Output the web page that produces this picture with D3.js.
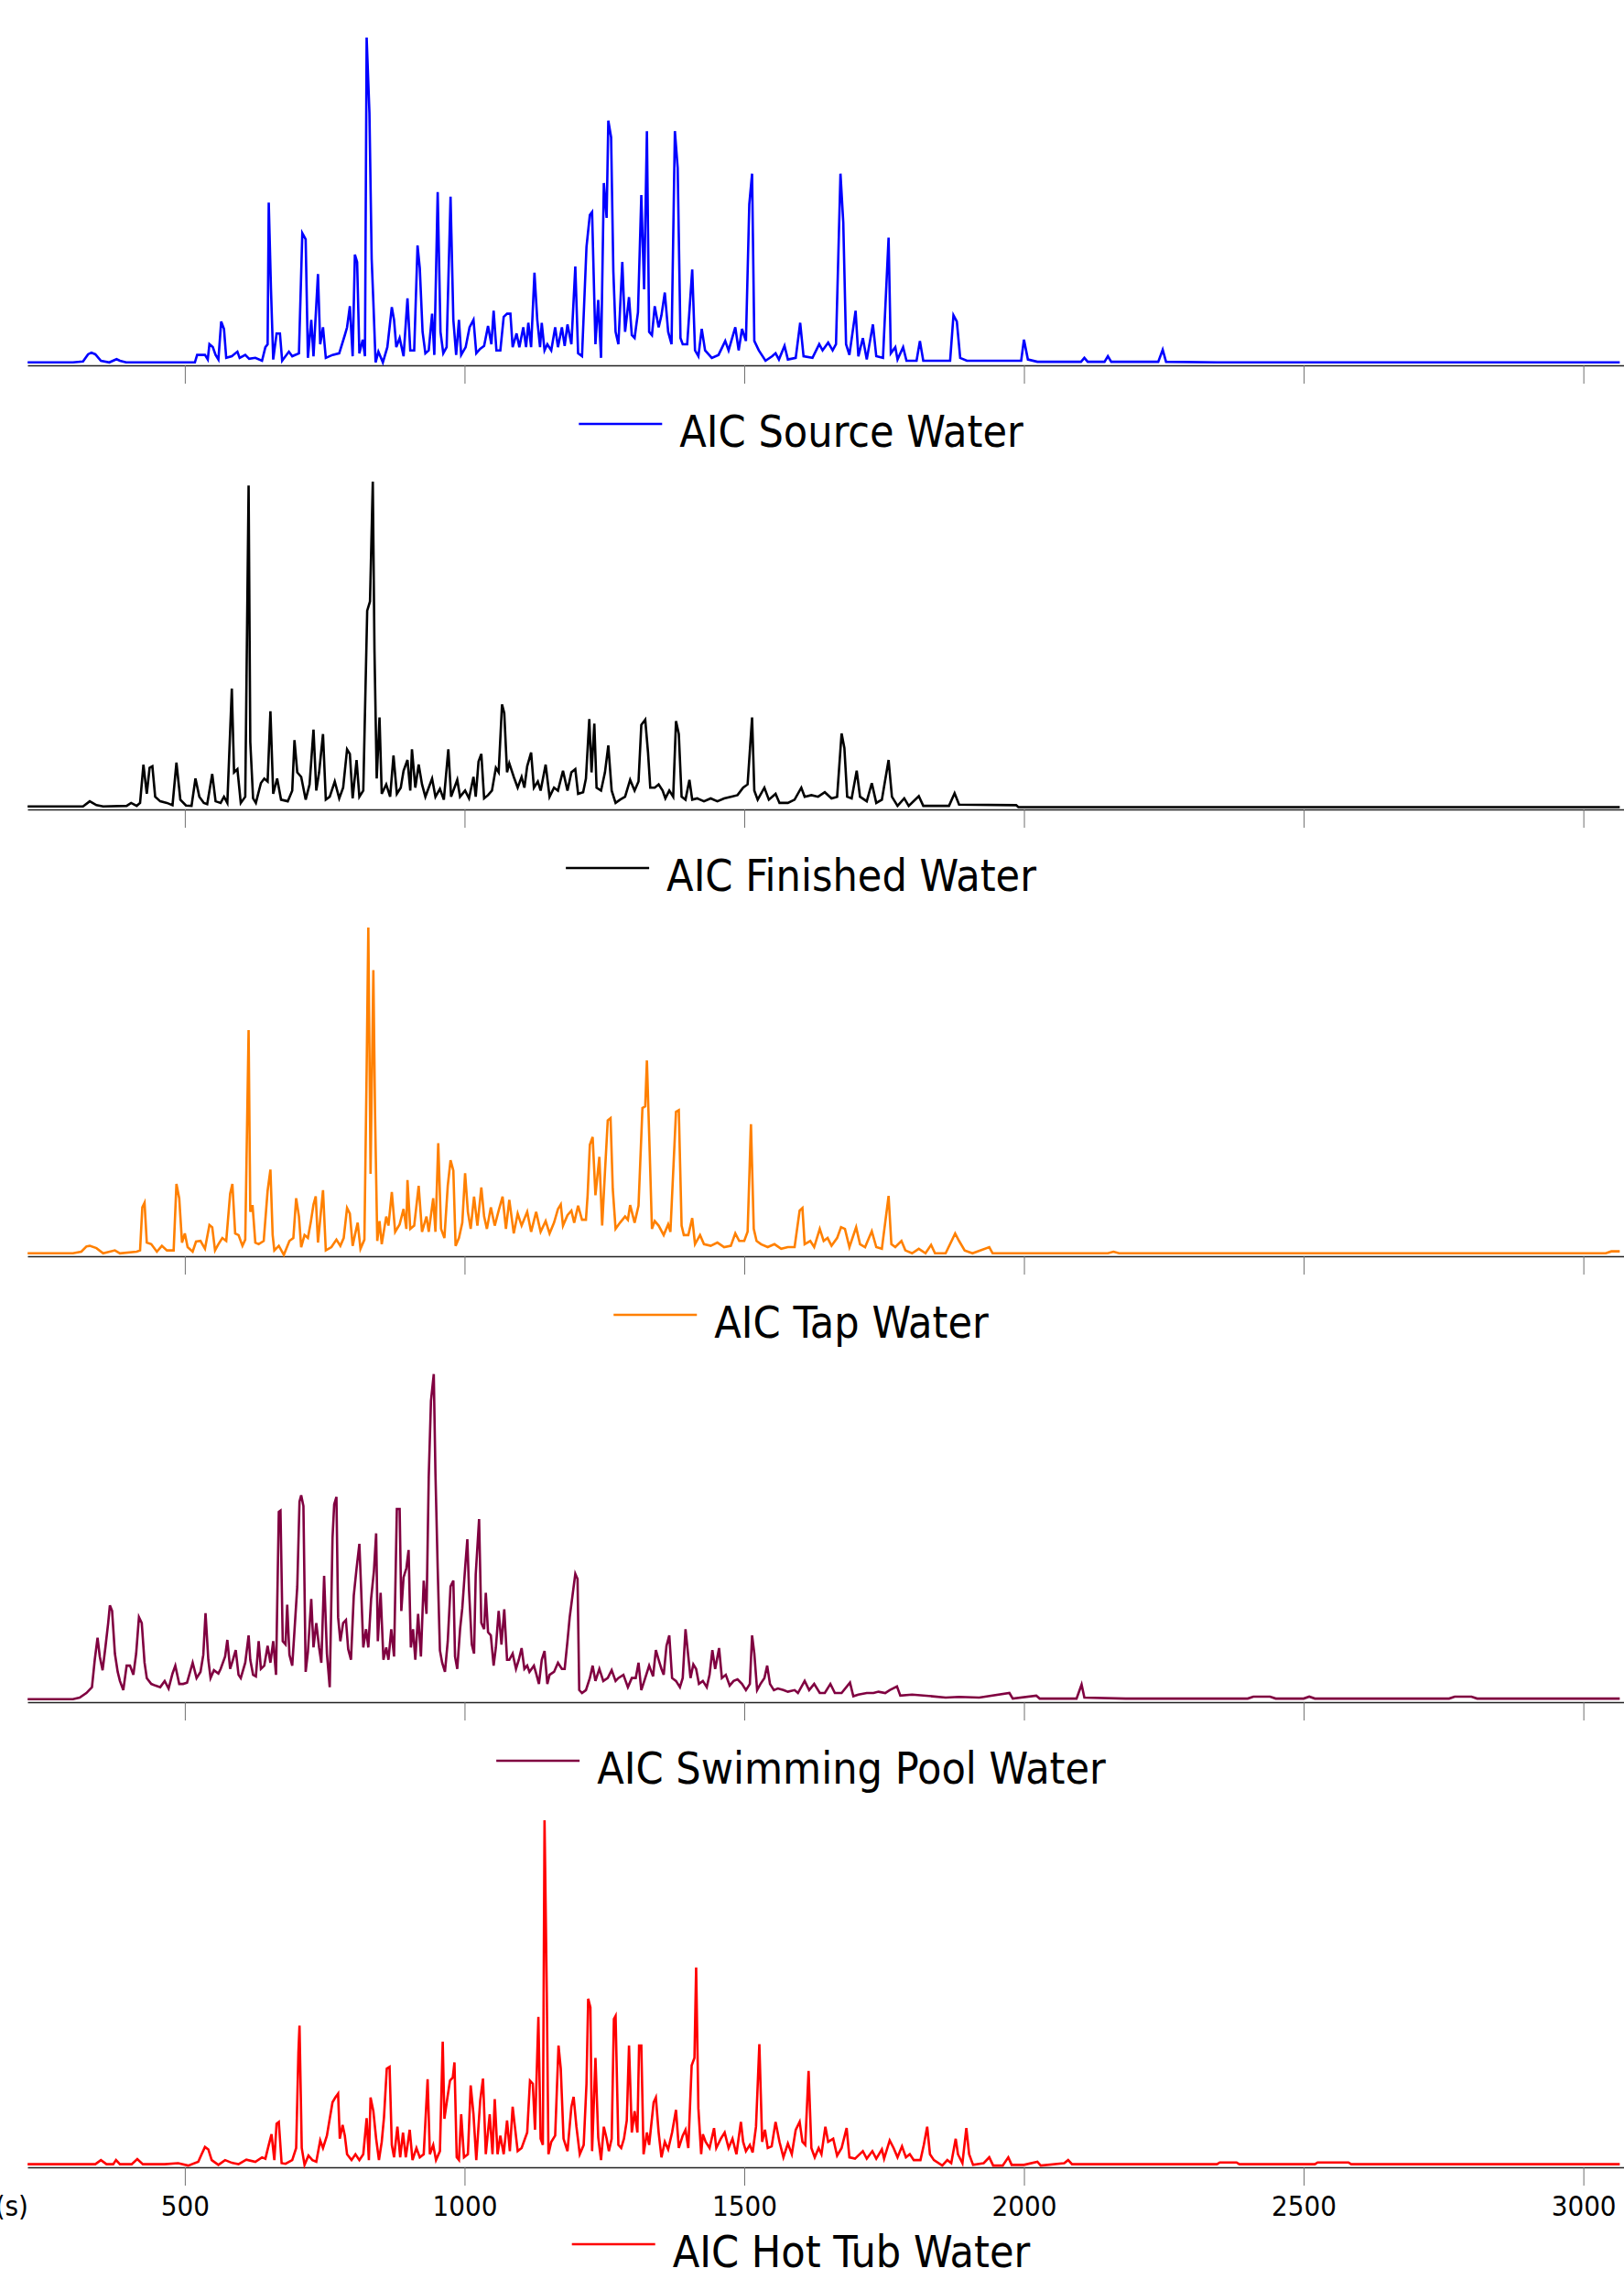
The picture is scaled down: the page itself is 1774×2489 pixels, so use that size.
<!DOCTYPE html>
<html>
<head>
<meta charset="utf-8">
<script src="https://cdn.jsdelivr.net/npm/d3@7"></script>
<style>
  body { margin: 0; background: #fff; }
  svg text { font-family: "DejaVu Sans Condensed", "DejaVu Sans", sans-serif; font-stretch: condensed; }
</style>
</head>
<body>
<div id="chart"></div>
<script>
// retention time ticks (s)
var timeTicks = [500, 1000, 1500, 2000, 2500, 3000];

var seriesNames = ["AIC Source Water", "AIC Finished Water", "AIC Tap Water",
                   "AIC Swimming Pool Water", "AIC Hot Tub Water"];

// [time (s), relative abundance (% of panel max)]
var sourceWater = [[219,0],[300,0],[318,0.3],[327,2.5],[333,3],[340,2.5],[350,0.5],[365,0],[378,1],[384,0.5],[395,0],[460,0],
  [518,0],[522,2.3],[536,2.3],[541,0.9],[544,5.6],[550,4.7],[555,2.3],[560,0.9],[565,12.6],[570,10.3],[574,1.4],[584,1.9],
  [594,3.3],[598,1.4],[608,2.3],[615,1.1],[626,1.4],[638,0.5],[644,4.7],[648,5.6],[650,49.2],[654,22.5],[658,0.9],[664,8.9],
  [670,8.9],[674,0.5],[686,3.3],[692,1.9],[704,2.8],[710,39.8],[716,37.9],[720,1.4],[726,13.1],[730,1.9],[738,27.2],[742,5.6],
  [747,10.8],[752,1.4],[764,2.3],[776,2.8],[786,8.4],[790,10.8],[795,17.3],[800,1.9],[804,33.2],[808,30.9],[812,2.8],[818,7],
  [822,1.9],[825,100],[830,76.8],[834,31.8],[837,18.7],[841,0],[846,3.3],[854,0],[862,4.7],[870,17],[874,13.1],[878,4.7],
  [884,7.5],[891,1.9],[898,19.7],[903,3.7],[910,3.7],[916,36],[920,29],[925,9.4],[930,2.8],[936,3.7],[942,15],[946,2.3],
  [952,52.4],[957,9.4],[962,2.8],[968,4.7],[975,51],[980,13.1],[985,2.3],[990,13.1],[994,2.3],[1002,4.7],[1009,10.8],[1016,13.1],
  [1021,2.8],[1028,4.2],[1035,5.1],[1042,11.2],[1048,5.6],[1052,15.9],[1057,3.7],[1064,3.7],[1070,14],[1076,15],[1082,15],
  [1086,4.7],[1093,8.9],[1098,4.7],[1105,10.8],[1110,4.7],[1114,12.2],[1119,4.7],[1125,27.6],[1130,13.1],[1135,4.7],[1138,12.2],
  [1143,3.7],[1148,5.6],[1155,3.7],[1162,10.8],[1167,4.7],[1174,10.8],[1179,5.1],[1184,11.7],[1191,5.6],[1198,29.5],[1203,2.8],
  [1210,1.9],[1218,35.6],[1224,45.4],[1228,46.3],[1234,5.6],[1239,19.2],[1244,1.4],[1249,55.2],[1254,44.5],[1257,74.4],[1262,69.3],
  [1266,28.1],[1270,9.4],[1275,5.6],[1282,30.9],[1287,9.4],[1294,20.1],[1299,8.4],[1304,7.5],[1310,15.4],[1316,51.5],[1321,22.5],
  [1326,71.2],[1330,9.4],[1335,8.4],[1340,17.3],[1347,10.8],[1352,14.5],[1358,21.5],[1364,9.4],[1370,5.6],[1376,71.2],[1381,59.9],
  [1386,7.5],[1390,5.6],[1398,5.6],[1407,28.6],[1412,3.7],[1418,1.9],[1424,10.3],[1430,3.7],[1442,1.4],[1454,2.3],[1466,6.6],
  [1472,3.7],[1484,10.8],[1490,3.7],[1496,10.3],[1503,6.6],[1509,48.7],[1514,58.1],[1518,6.6],[1526,3.7],[1538,0.5],[1550,1.9],
  [1556,2.8],[1562,0.9],[1572,5.1],[1578,0.9],[1592,1.4],[1600,12.2],[1606,1.9],[1622,1.4],[1634,5.6],[1640,3.7],[1650,6.1],
  [1658,3.7],[1664,5.6],[1672,58.1],[1677,43.1],[1682,5.6],[1688,2.3],[1699,15.9],[1704,1.9],[1712,7.5],[1719,0.9],[1730,11.7],
  [1736,1.9],[1748,1.4],[1758,38.4],[1762,2.8],[1770,4.7],[1774,0.9],[1784,4.7],[1790,0.5],[1808,0.5],[1814,6.6],[1820,0.5],
  [1868,0.5],[1874,14.5],[1880,12.6],[1886,1.4],[1898,0.5],[1940,0.5],[1995,0.5],[2000,7],[2007,0.9],[2024,0.2],[2102,0.2],
  [2108,1.4],[2114,0.2],[2144,0.2],[2150,1.9],[2156,0.2],[2240,0.2],[2248,3.9],[2254,0.2],[2345,0],[3065,0]];

var finishedWater = [[219,0],[300,0],[318,0],[330,1.6],[342,0.4],[354,0],[396,0.2],[404,1.1],[414,0.2],[420,1.1],
  [426,12.9],[432,3.9],[437,11.9],[442,12.4],[447,3],[456,1.6],[468,1.1],[478,0.4],[485,13.5],[492,2.1],[502,0.3],[512,0.2],
  [519,8.6],[526,3],[534,1.1],[540,0.7],[549,10],[555,1.6],[564,1.1],[570,3],[576,1.1],[584,36.3],[588,10.5],[594,11.5],
  [600,1.1],[608,3],[614,98.8],[617,19.9],[622,2.5],[627,1.1],[636,7.2],[642,8.6],[648,7.7],[653,29.3],[658,3.9],[665,8.6],
  [672,2.1],[684,1.6],[692,4.9],[696,20.4],[701,10.5],[708,9.1],[716,2.1],[723,6.8],[730,23.7],[735,4.9],[740,10.5],[747,22.3],
  [752,2.1],[759,3],[768,7.7],[776,2.5],[783,5.8],[790,17.6],[795,16.2],[800,2.5],[807,14.3],[812,3],[819,4.9],[826,60.3],
  [831,63.1],[836,100],[839,48.1],[843,8.6],[848,27.4],[852,3.9],[860,6.8],[867,3],[873,15.7],[879,3.9],[886,5.8],[891,11],
  [898,14.3],[903,4.9],[906,17.6],[912,5.8],[918,12.9],[924,6.8],[930,3],[936,5.8],[942,8.6],[948,3],[956,5.4],[963,2.1],
  [971,17.6],[976,3],[987,8.2],[992,3],[1001,4.9],[1008,2.5],[1016,9.1],[1020,3],[1025,13.8],[1030,16.2],[1035,2.5],[1042,3.5],
  [1049,4.9],[1056,11.9],[1061,10.5],[1067,31.4],[1071,28.8],[1076,10.5],[1080,13.3],[1088,9.1],[1095,5.8],[1102,9.1],[1107,5.8],
  [1112,12.4],[1119,16.6],[1124,5.8],[1131,7.7],[1136,4.9],[1145,12.9],[1152,3],[1160,5.8],[1167,4.9],[1176,11],[1184,4.9],
  [1191,10.5],[1198,11.5],[1203,3.9],[1212,4.4],[1217,8.6],[1223,26.9],[1227,10.5],[1232,25.5],[1236,5.8],[1244,4.9],[1251,10.5],
  [1257,18.8],[1263,4.9],[1270,1.1],[1278,2.1],[1287,3],[1296,8.2],[1304,4.9],[1311,7.7],[1316,25.1],[1323,26.7],[1328,16.6],
  [1332,5.8],[1340,5.8],[1347,6.8],[1354,4.9],[1359,2.5],[1366,4.9],[1373,3],[1378,26.3],[1383,22.3],[1388,3],[1395,2.1],
  [1402,8.2],[1407,2.1],[1416,2.5],[1428,1.6],[1440,2.5],[1452,1.6],[1464,2.5],[1476,3],[1488,3.5],[1498,5.8],[1506,6.8],
  [1514,27.4],[1518,4.9],[1524,2.1],[1536,5.8],[1544,2.1],[1556,3.9],[1563,1.1],[1578,1.1],[1590,2.1],[1602,5.8],[1608,3],
  [1620,3.5],[1632,3],[1644,4.4],[1656,2.5],[1666,3],[1674,22.5],[1679,18],[1684,3],[1692,2.5],[1701,11],[1707,3],[1719,1.6],
  [1728,7.2],[1736,1.1],[1746,2.1],[1758,14.3],[1764,3],[1774,0.2],[1786,2.5],[1794,0.2],[1812,3.2],[1820,0.2],[1866,0.2],
  [1876,4.1],[1884,0.6],[1986,0.4],[1990,-0.2],[3065,-0.2]];

var tapWater = [[219,0],[300,0],[315,0.5],[324,2.1],[330,2.3],[342,1.6],[354,0],[375,0.9],[384,0],[414,0.5],[420,0.9],
  [424,14.1],[428,15.5],[432,3.3],[440,2.8],[450,0.5],[459,2.3],[468,0.9],[480,0.9],[485,21.3],[490,16.9],[495,3.3],[500,6.1],
  [505,1.9],[514,0.5],[520,3.6],[528,3.8],[536,1.4],[544,8.7],[549,8],[554,0.9],[560,2.8],[567,4.7],[574,3.8],[581,18.3],
  [585,21.3],[590,6.1],[596,5.6],[603,2.3],[608,4.2],[614,68.5],[617,12.7],[621,14.8],[626,3.3],[632,2.8],[641,3.8],[648,19.2],
  [653,25.7],[657,5.6],[660,0.9],[668,2.3],[677,-0.5],[687,3.8],[694,4.7],[699,16.9],[704,11.3],[708,1.9],[714,5.6],[720,4.7],
  [725,9.4],[730,15],[734,17.5],[738,3.3],[747,19.4],[752,0.9],[762,1.9],[771,4.2],[778,2.3],[784,4.7],[790,13.9],[795,12.2],
  [800,2.3],[804,5.6],[809,9.4],[814,1.4],[821,4.2],[825,56.3],[828,100],[832,24.4],[837,86.9],[840,43.2],[844,3.8],[848,9.9],
  [852,2.8],[860,11.3],[864,8.5],[870,18.8],[876,6.6],[884,8.9],[891,13.6],[896,7.5],[898,22.5],[903,7.5],[910,8.5],[918,20.7],
  [924,6.6],[932,11.3],[936,6.6],[944,16.9],[948,6.6],[953,33.8],[958,7.5],[964,4.7],[970,20.7],[975,28.6],[980,25.4],[984,2.3],
  [990,4.7],[996,9.4],[1001,24.6],[1006,12.7],[1011,7.5],[1017,17.4],[1023,8.5],[1030,20.2],[1035,11.3],[1040,7.5],[1047,14.1],
  [1054,8.5],[1061,13.1],[1068,17.4],[1074,7.5],[1080,16.4],[1088,6.1],[1095,12.2],[1102,8.5],[1112,12.7],[1119,6.6],[1128,12.7],
  [1136,6.6],[1145,9.9],[1152,6.1],[1160,9.4],[1167,13.6],[1172,15],[1176,8.5],[1184,11.7],[1191,13.1],[1196,9.4],[1203,14.6],
  [1210,10.3],[1217,10.3],[1220,17.8],[1224,33.3],[1229,35.7],[1234,17.8],[1241,29.6],[1246,8.5],[1251,24.9],[1256,40.8],
  [1261,41.5],[1265,19.7],[1270,7.5],[1278,9.4],[1287,11.3],[1292,10.3],[1296,14.8],[1304,9.4],[1311,14.6],[1318,44.6],
  [1323,45.1],[1326,59.2],[1331,31],[1335,7.5],[1340,9.9],[1347,8.5],[1356,5.6],[1364,8.9],[1368,6.6],[1378,43.4],[1383,43.9],
  [1388,8.5],[1392,5.6],[1400,5.6],[1407,10.8],[1412,2.8],[1421,5.6],[1428,2.8],[1440,2.3],[1452,3.3],[1464,1.9],[1476,2.3],
  [1484,6.1],[1491,3.8],[1500,3.8],[1506,6.6],[1512,39.6],[1517,7.5],[1522,3.8],[1530,2.8],[1542,1.9],[1554,2.8],[1566,1.4],
  [1578,1.9],[1590,1.9],[1599,13.1],[1604,13.9],[1608,2.8],[1618,3.8],[1625,1.9],[1635,7.5],[1642,3.8],[1649,4.7],[1656,2.3],
  [1666,4.7],[1673,8],[1680,7.5],[1688,1.9],[1700,8],[1707,2.8],[1716,1.9],[1728,6.8],[1736,1.9],[1746,1.4],[1758,17.6],
  [1763,2.8],[1770,1.9],[1781,3.8],[1788,0.9],[1800,0],[1812,1.4],[1824,0],[1834,2.6],[1841,0],[1860,0],[1877,6.1],[1884,3.8],
  [1894,0.9],[1908,0],[1938,1.9],[1944,0],[2150,0],[2160,0.5],[2170,0],[3040,0],[3050,0.6],[3065,0.6]];

var poolWater = [[219,0],[300,0],[312,0.5],[324,1.9],[334,3.7],[339,12.1],[344,18.9],[348,13.1],[353,8.9],[358,15.9],[363,23.4],
  [366,28.8],[370,27.1],[375,14],[380,8.4],[384,5.6],[390,2.8],[396,10.3],[402,10.3],[408,7.5],[413,14],[418,25.2],[423,23.4],
  [428,11.2],[432,6.5],[440,4.7],[447,4.2],[456,3.7],[464,5.6],[471,3.3],[478,7.9],[483,10.3],[490,4.7],[497,4.7],[504,5.1],
  [514,11.2],[521,6.5],[528,8.4],[533,13.6],[537,26.4],[542,12.1],[546,6.5],[552,8.9],[560,7.9],[564,9.3],[572,13.1],[576,18.2],
  [581,9.3],[586,12.1],[591,15.1],[596,7.5],[600,6.5],[608,11.2],[614,19.6],[617,12.1],[622,7.5],[627,7],[632,17.8],[636,9.3],
  [642,10.3],[648,16.4],[653,11.2],[658,17.8],[663,7.5],[668,57.5],[671,57.9],[675,17.8],[680,16.8],[683,29],[687,13.6],
  [692,10.3],[696,21],[701,34.6],[705,60.7],[708,62.6],[712,59.3],[716,8.4],[720,14.5],[726,30.8],[730,15.9],[735,23.4],
  [740,15.9],[744,11.2],[749,37.9],[754,14],[759,3.7],[764,49.5],[767,59.8],[771,62.1],[774,25.2],[778,17.8],[783,23.4],
  [788,24.3],[792,15.4],[797,12.1],[802,31.8],[807,40.2],[812,47.7],[815,34.6],[819,15.9],[824,21.5],[828,15.9],[833,30.8],
  [838,39.3],[842,50.9],[845,17.8],[850,32.7],[855,12.1],[860,15.9],[864,12.1],[869,21.5],[874,13.1],[879,58.4],[884,58.4],
  [887,27.1],[891,37.4],[896,40.2],[900,45.8],[904,15.9],[908,21.5],[912,12.1],[917,26.2],[922,13.1],[927,36.4],[932,26.2],
  [936,68.2],[940,91.6],[945,99.8],[948,69.2],[952,40.2],[956,15],[960,11.2],[965,8.4],[970,17.8],[975,34.6],[980,36.4],
  [983,13.1],[987,9.3],[992,21.5],[996,28],[1001,40.2],[1005,49.1],[1008,33.6],[1013,16.8],[1017,14],[1020,38.3],[1026,55.3],
  [1030,23.4],[1035,21.5],[1038,32.7],[1042,20.6],[1047,19.6],[1052,10.3],[1056,15.9],[1061,27.1],[1066,16.8],[1071,27.6],
  [1076,12.1],[1080,12.1],[1086,14],[1092,9.3],[1097,12.1],[1102,15.7],[1107,9.3],[1112,10.3],[1116,8.4],[1124,10.3],[1128,7.9],
  [1133,4.7],[1138,12.1],[1143,14.8],[1148,4.7],[1152,7.5],[1160,8.4],[1167,11.2],[1174,9.3],[1179,9.3],[1184,17.8],[1188,25.2],
  [1193,31.8],[1198,38.5],[1202,36.9],[1205,2.8],[1210,1.9],[1217,2.8],[1224,6.5],[1229,10.3],[1234,5.6],[1241,9.3],[1248,5.6],
  [1256,6.5],[1263,8.9],[1270,5.6],[1275,6.5],[1284,7.5],[1292,3.7],[1299,6.5],[1306,6.5],[1311,11.2],[1316,2.8],[1323,6.5],
  [1330,10.3],[1337,7],[1342,15.1],[1347,12.1],[1352,9.3],[1356,7.5],[1361,16.4],[1366,19.6],[1371,6.5],[1378,5.6],[1385,3.7],
  [1390,6.5],[1395,21.5],[1400,13.1],[1404,6.5],[1409,10.7],[1414,9.3],[1419,4.7],[1426,5.6],[1433,3.7],[1438,7.5],[1443,15.1],
  [1448,9.3],[1455,15.7],[1460,6.5],[1467,7.5],[1474,4.2],[1481,5.6],[1488,6.1],[1496,4.7],[1503,2.8],[1510,4.7],[1514,19.6],
  [1518,14],[1523,2.8],[1529,4.7],[1536,6.5],[1541,10.3],[1546,4.7],[1553,2.8],[1560,3.3],[1570,2.8],[1578,2.3],[1590,2.8],
  [1596,1.9],[1608,5.6],[1616,2.8],[1625,4.7],[1635,1.9],[1644,1.9],[1654,4.7],[1662,1.9],[1674,1.9],[1689,5.1],[1695,0.9],
  [1704,1.4],[1719,1.9],[1731,1.9],[1740,2.3],[1752,1.9],[1760,2.8],[1773,3.9],[1779,1.1],[1800,1.4],[1836,0.9],[1860,0.5],
  [1884,0.7],[1920,0.5],[1974,1.9],[1980,0.2],[2022,1.1],[2028,0.2],[2094,0.2],[2103,4.5],[2108,0.5],[2182,0.2],[2400,0.2],
  [2410,0.8],[2440,0.8],[2450,0.2],[2500,0.2],[2510,0.8],[2520,0.2],[2760,0.2],[2770,0.8],[2800,0.8],[2810,0.2],[3065,0.2]];

var hotTubWater = [[219,0],[300,0],[340,0],[350,1.2],[360,0],[372,0],[377,1.2],[384,0],[405,0],[415,1.5],[425,0],[464,0],
  [488,0.3],[506,-0.4],[524,0.7],[530,2.9],[536,5],[542,4.3],[548,1.2],[560,-0.2],[572,1.2],[584,0.4],[596,0],[610,1.3],
  [626,0.7],[638,2],[644,1.6],[650,5.6],[655,8.7],[660,1.2],[664,11.8],[668,12.3],[673,0.3],[680,0.1],[692,1.2],[699,4.7],
  [703,32.3],[705,40.3],[709,4.7],[714,-0.2],[721,2.5],[728,1.2],[735,0.7],[742,6.9],[747,4.7],[754,8.3],[759,13.2],[764,18],
  [769,19.4],[774,20.5],[777,7.4],[782,11.4],[786,8.3],[790,2.9],[798,1.2],[805,2.9],[812,1.2],[819,2.9],[825,13.4],[829,1.2],
  [832,19.4],[837,15.4],[842,7.4],[847,1.2],[852,6.5],[856,13.6],[861,27.8],[866,28.3],[870,5.6],[874,2],[880,10.9],[885,2],
  [890,9.2],[895,2],[902,10],[907,1.2],[914,4.7],[920,2],[927,2.9],[934,24.7],[938,2.9],[944,5.6],[949,1.2],[956,3.8],
  [961,35.6],[964,13.2],[969,18.9],[974,24.3],[979,25.2],[982,29.6],[986,2],[990,1.2],[994,14.5],[999,2],[1006,2.9],[1011,22.9],
  [1016,14.5],[1021,1.2],[1028,18.5],[1033,24.9],[1038,2.9],[1045,14.5],[1050,2.9],[1054,18.9],[1059,2.9],[1064,8.3],[1070,2.9],
  [1076,12.7],[1081,3.8],[1086,16.7],[1090,10.9],[1095,3.8],[1102,4.7],[1112,9.2],[1117,24.3],[1122,23.4],[1126,10],[1132,42.8],
  [1136,7.4],[1140,5.6],[1143,100],[1147,50],[1150,2.9],[1155,6.5],[1162,8.3],[1168,34.5],[1172,27.8],[1177,7.4],[1184,3.8],
  [1191,16.7],[1195,19.6],[1200,10.9],[1206,2.9],[1213,5.6],[1218,23.4],[1221,48.1],[1225,45.6],[1228,3.8],[1234,30.9],
  [1239,7.8],[1244,1.2],[1249,10.9],[1254,7.4],[1258,3.8],[1263,7.4],[1267,42.2],[1270,43.1],[1275,5.6],[1280,4.7],[1285,7.4],
  [1290,12.7],[1294,34.5],[1299,9.2],[1304,15.4],[1309,9.2],[1312,34.5],[1316,34.5],[1320,2.9],[1326,9.2],[1330,5.6],[1338,18],
  [1342,19.4],[1347,9.2],[1352,2],[1358,6.5],[1364,4.3],[1371,9.2],[1378,15.8],[1383,4.7],[1390,8.3],[1395,10],[1400,4.7],
  [1406,28.7],[1411,30.9],[1414,57.2],[1418,16.3],[1423,2.9],[1426,8.7],[1431,6.5],[1438,4.7],[1446,10.5],[1450,4.7],[1458,7.4],
  [1465,9.2],[1472,4.7],[1479,7.4],[1486,2.9],[1494,12.3],[1498,6.5],[1503,3.8],[1510,5.6],[1515,3.4],[1521,10.9],[1527,34.9],
  [1532,6.5],[1537,10],[1542,4.7],[1549,5.2],[1556,12.3],[1563,6.5],[1570,2],[1578,6],[1585,2.9],[1592,10],[1599,12.3],
  [1604,6.5],[1609,5.6],[1615,27.1],[1620,4.7],[1626,2],[1633,4.7],[1638,2.9],[1645,10.9],[1650,6.5],[1659,7.4],[1666,2.5],
  [1674,4.7],[1683,10.5],[1688,2],[1698,1.6],[1712,3.8],[1719,1.6],[1729,3.8],[1736,1.6],[1746,4.3],[1750,1.6],[1760,6.9],
  [1767,4.7],[1774,2],[1782,5.2],[1789,2],[1796,2.9],[1803,1.2],[1815,1.2],[1821,5.6],[1827,10.9],[1832,2.9],[1839,1.2],
  [1854,-0.4],[1863,1.2],[1870,0.3],[1878,7.4],[1882,2.9],[1890,0.3],[1897,10.5],[1902,2.9],[1909,-0.2],[1928,0.3],[1938,2],
  [1945,-0.4],[1962,-0.4],[1972,2],[1978,-0.2],[2000,-0.2],[2024,0.7],[2030,-0.4],[2072,0.3],[2079,1.2],[2086,0],[2345,0],
  [2350,0.5],[2380,0.5],[2385,0],[2520,0],[2525,0.5],[2580,0.5],[2585,0],[3065,0]];

var seriesData = [sourceWater, finishedWater, tapWater, poolWater, hotTubWater];
var seriesColors = ["#0000ff", "#000000", "#ff8000", "#800040", "#ff0000"];

// layout
var W = 1774, H = 2489;
var axisY = [399, 884, 1372, 1859, 2367];
var topY = [41, 526, 1013, 1500, 1988];
var legendGap = [64, 64, 64, 64, 84];
var legendCx = 875;

var svg = d3.select("#chart").append("svg")
  .attr("width", W)
  .attr("height", H);

var x = d3.scaleLinear()
  .domain([218.7, 3072.6])
  .range([30, W]);

seriesData.forEach(function(data, i) {
  var y = d3.scaleLinear()
    .domain([-0.9, 100])
    .range([axisY[i], topY[i]]);

  var line = d3.line()
    .x(function(d) { return x(d[0]); })
    .y(function(d) { return y(d[1]); });

  // axis (labels only on the bottom panel)
  var axis = d3.axisBottom(x)
    .tickValues(timeTicks)
    .tickSize(20)
    .tickSizeOuter(0)
    .tickPadding(11)
    .tickFormat(i === 4 ? d3.format("d") : function() { return ""; });

  var gAxis = svg.append("g")
    .attr("transform", "translate(0," + axisY[i] + ")")
    .call(axis);
  gAxis.select(".domain").attr("stroke", "#222").attr("stroke-width", 1.4);
  gAxis.selectAll(".tick line").attr("stroke", "#707070").attr("stroke-width", 1);
  gAxis.selectAll(".tick text")
    .attr("fill", "#000")
    .style("font-size", "31px");

  svg.append("path")
    .datum(data)
    .attr("fill", "none")
    .attr("stroke", seriesColors[i])
    .attr("stroke-width", 2.6)
    .attr("stroke-linejoin", "miter")
    .attr("d", line);

  // legend below each panel
  var ly = axisY[i] + legendGap[i];
  var lg = svg.append("g");
  var label = lg.append("text")
    .attr("y", ly + 25)
    .style("font-size", "48px")
    .attr("fill", "#000")
    .text(seriesNames[i]);
  var tw = label.node().getComputedTextLength();
  var total = 91 + 19 + tw;
  var x0 = legendCx - total / 2;
  lg.append("line")
    .attr("x1", x0).attr("x2", x0 + 91)
    .attr("y1", ly).attr("y2", ly)
    .attr("stroke", seriesColors[i])
    .attr("stroke-width", 2.5);
  label.attr("x", x0 + 110);
});

// x axis title, partly outside the left edge like the original
svg.append("text")
  .attr("x", 31)
  .attr("y", 2420)
  .attr("text-anchor", "end")
  .style("font-size", "31px")
  .attr("fill", "#000")
  .text("Time (s)");
</script>
</body>
</html>
